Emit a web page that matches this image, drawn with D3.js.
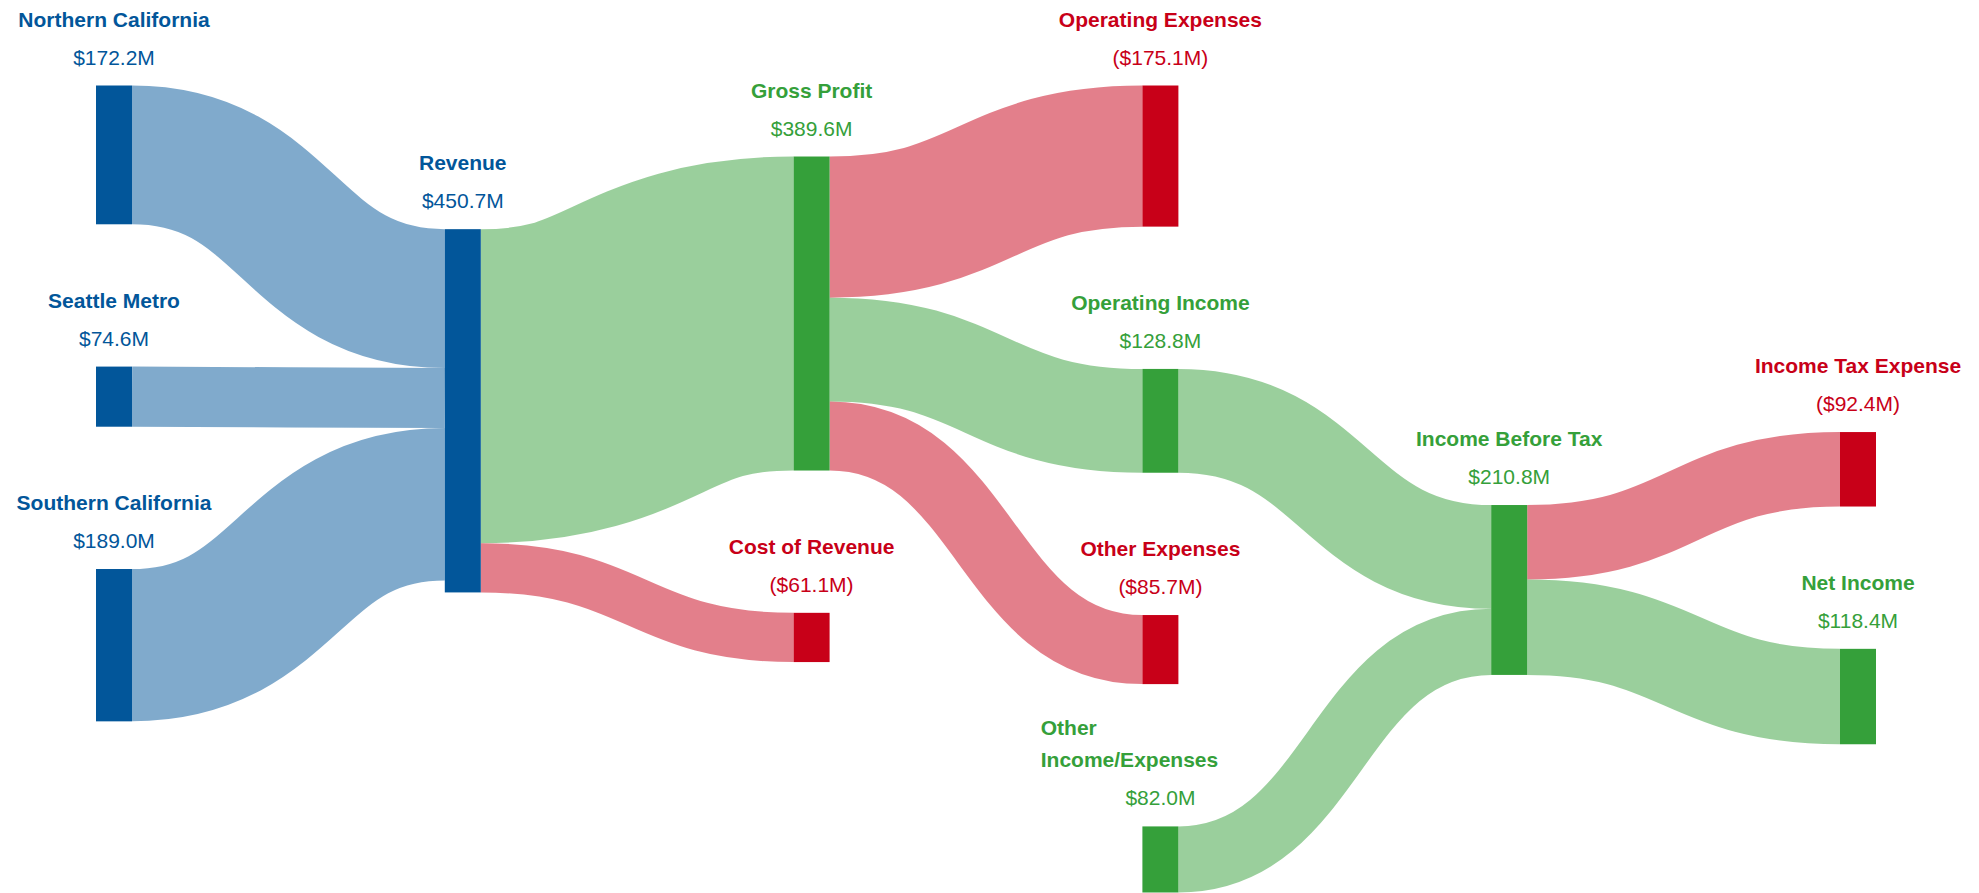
<!DOCTYPE html>
<html>
<head>
<meta charset="utf-8">
<script src="https://cdn.jsdelivr.net/npm/d3@7"></script>
<style>
  body { margin: 0; background: #fff; }
  text { font-family: "Liberation Sans", Arial, Helvetica, sans-serif; }
</style>
</head>
<body>
<div class="chart"></div>
<script>
// Income statement sankey

var svgWidth = 1979;
var svgHeight = 893;

// Nodes (in input order) and what kind of line item each one is
var nodeNames = [
    "Northern California", "Seattle Metro", "Southern California",
    "Revenue",
    "Gross Profit", "Cost of Revenue",
    "Operating Expenses", "Operating Income", "Other Expenses", "Other Income/Expenses",
    "Income Before Tax",
    "Income Tax Expense", "Net Income"
];
var nodeKinds = [
    "revenue", "revenue", "revenue",
    "revenue",
    "profit", "expense",
    "expense", "profit", "expense", "profit",
    "profit",
    "expense", "profit"
];

// Flows, in $M
var linkSources = [0, 1, 2, 3, 3, 4, 4, 4, 7, 9, 10, 10];
var linkTargets = [3, 3, 3, 4, 5, 6, 7, 8, 10, 10, 11, 12];
var linkValues = [172.2, 74.6, 189.0, 389.6, 61.1, 175.1, 128.8, 85.7, 128.8, 82.0, 92.4, 118.4];

var colors = { revenue: "#02569a", profit: "#35a03a", expense: "#c80018" };

var extent = { left: 96, right: 1876, top: 85.5, bottom: 892.5 };
var nodeWidth = 36;
var nodePadding = 142.3;
var iterations = 6;

var svg = d3.select(".chart")
    .append("svg")
    .attr("width", svgWidth)
    .attr("height", svgHeight);

var nodes = nodeNames.map(function(name, i) {
    return { name: name, kind: nodeKinds[i] };
});
var links = linkValues.map(function(v, i) {
    return { source: linkSources[i], target: linkTargets[i], value: v };
});

// --- a small port of the d3-sankey layout (center aligned) ---
function byBreadth(a, b) { return a.y0 - b.y0; }
function bySourceBreadth(a, b) { return byBreadth(a.source, b.source) || a.index - b.index; }
function byTargetBreadth(a, b) { return byBreadth(a.target, b.target) || a.index - b.index; }

function sankeyLayout(nodes, links) {
    var py = nodePadding;
    var y0 = extent.top, y1 = extent.bottom;

    nodes.forEach(function(n, i) {
        n.index = i;
        n.sourceLinks = [];
        n.targetLinks = [];
    });
    links.forEach(function(l, i) {
        l.index = i;
        l.source = nodes[l.source];
        l.target = nodes[l.target];
        l.source.sourceLinks.push(l);
        l.target.targetLinks.push(l);
    });
    nodes.forEach(function(n) {
        n.value = Math.max(d3.sum(n.sourceLinks, function(l) { return l.value; }),
                           d3.sum(n.targetLinks, function(l) { return l.value; }));
    });

    // depths
    var current = new Set(nodes), x = 0;
    while (current.size) {
        var next = new Set();
        current.forEach(function(n) {
            n.depth = x;
            n.sourceLinks.forEach(function(l) { next.add(l.target); });
        });
        x++;
        current = next;
    }

    // columns, center alignment
    nodes.forEach(function(n) {
        n.layer = n.targetLinks.length ? n.depth
            : n.sourceLinks.length ? d3.min(n.sourceLinks, function(l) { return l.target.depth; }) - 1 : 0;
    });
    var nCols = d3.max(nodes, function(n) { return n.depth; }) + 1;
    var xScale = d3.scaleLinear()
        .domain([0, nCols - 1])
        .range([extent.left, extent.right - nodeWidth]);
    var columns = d3.range(nCols).map(function() { return []; });
    nodes.forEach(function(n) {
        n.layer = Math.max(0, Math.min(nCols - 1, n.layer));
        n.x0 = xScale(n.layer);
        n.x1 = n.x0 + nodeWidth;
        columns[n.layer].push(n);
    });

    // value -> pixels
    var ky = d3.min(columns, function(c) {
        return (y1 - y0 - (c.length - 1) * py) / d3.sum(c, function(n) { return n.value; });
    });
    var hScale = d3.scaleLinear().domain([0, 1]).range([0, ky]);

    function reorderLinks(col) {
        col.forEach(function(n) {
            n.sourceLinks.sort(byTargetBreadth);
            n.targetLinks.sort(bySourceBreadth);
        });
    }
    function reorderNodeLinks(n) {
        n.targetLinks.forEach(function(l) { l.source.sourceLinks.sort(byTargetBreadth); });
        n.sourceLinks.forEach(function(l) { l.target.targetLinks.sort(bySourceBreadth); });
    }

    columns.forEach(function(col) {
        var y = y0;
        col.forEach(function(n) {
            n.y0 = y;
            n.y1 = y + hScale(n.value);
            y = n.y1 + py;
            n.sourceLinks.forEach(function(l) { l.width = hScale(l.value); });
        });
        y = (y1 - y + py) / (col.length + 1);
        col.forEach(function(n, i) {
            n.y0 += y * (i + 1);
            n.y1 += y * (i + 1);
        });
        reorderLinks(col);
    });

    function targetTop(source, target) {
        var y = source.y0 - (source.sourceLinks.length - 1) * py / 2;
        for (var i = 0; i < source.sourceLinks.length; i++) {
            var l = source.sourceLinks[i];
            if (l.target === target) break;
            y += l.width + py;
        }
        for (var j = 0; j < target.targetLinks.length; j++) {
            var k = target.targetLinks[j];
            if (k.source === source) break;
            y -= k.width;
        }
        return y;
    }
    function sourceTop(source, target) {
        var y = target.y0 - (target.targetLinks.length - 1) * py / 2;
        for (var i = 0; i < target.targetLinks.length; i++) {
            var l = target.targetLinks[i];
            if (l.source === source) break;
            y += l.width + py;
        }
        for (var j = 0; j < source.sourceLinks.length; j++) {
            var k = source.sourceLinks[j];
            if (k.target === target) break;
            y -= k.width;
        }
        return y;
    }

    function pushDown(col, y, i, alpha) {
        for (; i < col.length; ++i) {
            var n = col[i];
            var dy = (y - n.y0) * alpha;
            if (dy > 1e-6) { n.y0 += dy; n.y1 += dy; }
            y = n.y1 + py;
        }
    }
    function pushUp(col, y, i, alpha) {
        for (; i >= 0; --i) {
            var n = col[i];
            var dy = (n.y1 - y) * alpha;
            if (dy > 1e-6) { n.y0 -= dy; n.y1 -= dy; }
            y = n.y0 - py;
        }
    }
    function resolveCollisions(col, alpha) {
        var i = col.length >> 1;
        var subject = col[i];
        pushUp(col, subject.y0 - py, i - 1, alpha);
        pushDown(col, subject.y1 + py, i + 1, alpha);
        pushUp(col, y1, col.length - 1, alpha);
        pushDown(col, y0, 0, alpha);
    }

    function relaxLeftToRight(alpha, beta) {
        for (var i = 1; i < columns.length; i++) {
            var col = columns[i];
            col.forEach(function(t) {
                var y = 0, w = 0;
                t.targetLinks.forEach(function(l) {
                    var v = l.value * (t.layer - l.source.layer);
                    y += targetTop(l.source, t) * v;
                    w += v;
                });
                if (!(w > 0)) return;
                var dy = (y / w - t.y0) * alpha;
                t.y0 += dy;
                t.y1 += dy;
                reorderNodeLinks(t);
            });
            col.sort(byBreadth);
            resolveCollisions(col, beta);
        }
    }
    function relaxRightToLeft(alpha, beta) {
        for (var i = columns.length - 2; i >= 0; i--) {
            var col = columns[i];
            col.forEach(function(s) {
                var y = 0, w = 0;
                s.sourceLinks.forEach(function(l) {
                    var v = l.value * (l.target.layer - s.layer);
                    y += sourceTop(s, l.target) * v;
                    w += v;
                });
                if (!(w > 0)) return;
                var dy = (y / w - s.y0) * alpha;
                s.y0 += dy;
                s.y1 += dy;
                reorderNodeLinks(s);
            });
            col.sort(byBreadth);
            resolveCollisions(col, beta);
        }
    }

    for (var it = 0; it < iterations; it++) {
        var alpha = Math.pow(0.99, it);
        var beta = Math.max(1 - alpha, (it + 1) / iterations);
        relaxRightToLeft(alpha, beta);
        relaxLeftToRight(alpha, beta);
    }

    // link breadths
    nodes.forEach(function(n) {
        var a = n.y0, b = n.y0;
        n.sourceLinks.forEach(function(l) { l.y0 = a + l.width / 2; a += l.width; });
        n.targetLinks.forEach(function(l) { l.y1 = b + l.width / 2; b += l.width; });
    });
}

sankeyLayout(nodes, links);

var linkPath = d3.linkHorizontal()
    .source(function(d) { return [d.source.x1, d.y0]; })
    .target(function(d) { return [d.target.x0, d.y1]; });

svg.append("g")
    .attr("fill", "none")
    .selectAll("path")
    .data(links)
    .enter()
    .append("path")
    .attr("d", linkPath)
    .attr("stroke", function(d) { return colors[d.target.kind]; })
    .attr("stroke-opacity", 0.5)
    .attr("stroke-width", function(d) { return Math.max(1, d.width); });

svg.append("g")
    .selectAll("rect")
    .data(nodes)
    .enter()
    .append("rect")
    .attr("x", function(d) { return d.x0; })
    .attr("y", function(d) { return d.y0; })
    .attr("width", function(d) { return d.x1 - d.x0; })
    .attr("height", function(d) { return d.y1 - d.y0; })
    .attr("fill", function(d) { return colors[d.kind]; });

// labels above each node: bold name, value underneath
var money = d3.format(".1f");
var labelMaxWidth = 225;

var labels = svg.append("g")
    .selectAll("g")
    .data(nodes)
    .enter()
    .append("g")
    .attr("fill", function(d) { return colors[d.kind]; })
    .style("font-size", "21px");

labels.append("text")
    .attr("x", function(d) { return (d.x0 + d.x1) / 2; })
    .attr("y", function(d) { return d.y0 - 21; })
    .attr("text-anchor", "middle")
    .text(function(d) {
        var s = "$" + money(d.value) + "M";
        return d.kind === "expense" ? "(" + s + ")" : s;
    });

labels.append("text")
    .attr("x", function(d) { return (d.x0 + d.x1) / 2; })
    .attr("y", function(d) { return d.y0 - 59; })
    .attr("text-anchor", "middle")
    .style("font-weight", "bold")
    .text(function(d) { return d.name; })
    .each(function(d) {
        var text = d3.select(this);
        var full = this.getComputedTextLength();
        if (full <= labelMaxWidth) return;
        // wrap onto lines stacked upward, left aligned to where the full label began
        var words = d.name.split(/\s+/);
        var lines = [], line = [];
        text.text(null);
        var probe = text.append("tspan");
        words.forEach(function(w) {
            line.push(w);
            probe.text(line.join(" "));
            if (probe.node().getComputedTextLength() > labelMaxWidth && line.length > 1) {
                line.pop();
                lines.push(line.join(" "));
                line = [w];
            }
        });
        lines.push(line.join(" "));
        probe.remove();
        var left = (d.x0 + d.x1) / 2 - full / 2;
        text.attr("text-anchor", "start");
        lines.forEach(function(l, i) {
            text.append("tspan")
                .attr("x", left)
                .attr("y", d.y0 - 59 - (lines.length - 1 - i) * 32)
                .text(l);
        });
    });
</script>
</body>
</html>
